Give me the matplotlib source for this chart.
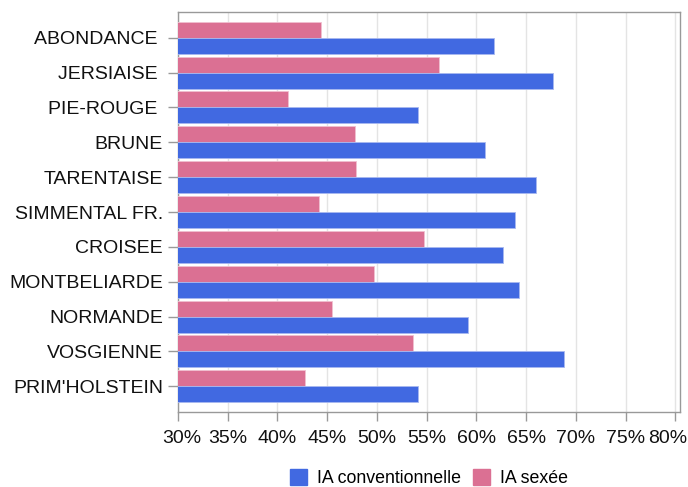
import matplotlib
matplotlib.use("Agg")
import matplotlib.pyplot as plt
import matplotlib.transforms as mtransforms
import numpy as np
from matplotlib.patches import Patch

plt.rcParams['font.family'] = ['Liberation Sans', 'DejaVu Sans']

categories = ["ABONDANCE ", "JERSIAISE ", "PIE-ROUGE ", "BRUNE", "TARENTAISE",
              "SIMMENTAL FR.", "CROISEE", "MONTBELIARDE", "NORMANDE", "VOSGIENNE",
              "PRIM'HOLSTEIN"]
ia_conventionnelle = [61.8, 67.75, 54.1, 60.9, 66.0, 63.9, 62.7, 64.3, 59.2, 68.8, 54.1]
ia_sexee = [44.4, 56.2, 41.1, 47.8, 47.9, 44.2, 54.7, 49.7, 45.5, 53.6, 42.8]
xticks = [30, 35, 40, 45, 50, 55, 60, 65, 70, 75, 80]
series_names = ["IA conventionnelle", "IA sexée"]

blue = "#4169E1"
pink = "#DB7093"

fig = plt.figure(figsize=(6.88, 4.87), dpi=100)
ax = fig.add_axes([0.2587, 0.1546, 0.7301, 0.8201])

y = np.arange(len(categories))
h = 0.46
ax.barh(y - 0.23, ia_sexee, height=h, color=pink, edgecolor="#f0c0d0", linewidth=0.6, zorder=3)
ax.barh(y + 0.23, ia_conventionnelle, height=h, color=blue, edgecolor="#a8b8f0", linewidth=0.6, zorder=3)

ax.set_xlim(30, 80.5)
ax.set_ylim(10.73, -0.73)
ax.set_yticks(y)
ax.set_yticklabels(categories)
ax.set_xticks(xticks)
ax.set_xticklabels([f"{v}%" for v in xticks])
ax.xaxis.grid(True, color="#e4e4e4", linewidth=1, zorder=0)
ax.set_axisbelow(True)
for s in ax.spines.values():
    s.set_color("#999999")
    s.set_linewidth(1)
ax.tick_params(axis='y', length=7.2, width=1, color="#999999", labelsize=14,
               labelcolor="#111111", pad=3.6)
ax.tick_params(axis='x', length=6.5, width=1, color="#999999", labelsize=14,
               labelcolor="#111111", pad=6.8)

# keep the end labels inside the figure, as in the reference
xlabels = ax.get_xticklabels()
first_off = mtransforms.ScaledTranslation(4 / 100, 0, fig.dpi_scale_trans)
last_off = mtransforms.ScaledTranslation(-8 / 100, 0, fig.dpi_scale_trans)
xlabels[0].set_transform(xlabels[0].get_transform() + first_off)
xlabels[-1].set_transform(xlabels[-1].get_transform() + last_off)

handles = [Patch(facecolor=blue, edgecolor=blue), Patch(facecolor=pink, edgecolor=pink)]
fig.legend(handles, series_names, loc="center", bbox_to_anchor=(0.624, 0.018), ncol=2,
           frameon=False, fontsize=12.8, handlelength=0.95, handleheight=0.95,
           handletextpad=0.56, columnspacing=0.68)

fig.savefig("out.png", dpi=100)
